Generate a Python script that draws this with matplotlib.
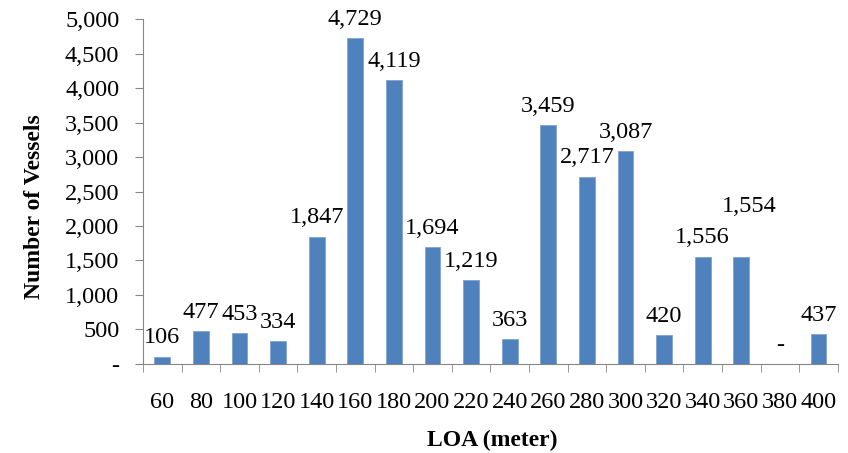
import numpy as np
import matplotlib.pyplot as plt
from matplotlib.ticker import FuncFormatter

# LOA classes (meter) and vessel counts
loa = ['60', '80', '100', '120', '140', '160', '180', '200', '220', '240',
       '260', '280', '300', '320', '340', '360', '380', '400']
vessels = [106, 477, 453, 334, 1847, 4729, 4119, 1694, 1219, 363,
           3459, 2717, 3087, 420, 1556, 1554, 0, 437]

plt.rcParams['font.family'] = ['Liberation Serif', 'DejaVu Serif']

fig = plt.figure(figsize=(8.48, 4.53), dpi=100)
ax = fig.add_axes([0.1686, 0.1965, 0.8194, 0.7615])

ind = np.arange(len(loa))
ax.bar(ind, vessels, 0.41, color='#4F81BD', edgecolor='#7FA3D0', linewidth=0.6)

# data labels (one label nudged up like the original)
nudge = {15: (6, 32)}
for i, v in enumerate(vessels):
    txt = '-' if v == 0 else f'{v:,}'
    dx, dy = nudge.get(i, (0, 9.5))
    ax.annotate(txt, (i, v), xytext=(dx, dy), textcoords='offset points',
                ha='center', va='baseline', fontsize=17.5)

ax.set_xlim(-0.5, len(loa) - 0.5)
ax.set_ylim(0, 5000)
ax.set_yticks(range(0, 5001, 500))
ax.yaxis.set_major_formatter(FuncFormatter(lambda y, p: '-' if y == 0 else f'{int(y):,}'))

ax.set_xticks(ind)
ax.set_xticklabels(loa)
ax.set_xticks(np.arange(-0.5, len(loa), 1), minor=True)
ax.tick_params(axis='x', which='major', length=0, pad=20, labelsize=17.5)
ax.tick_params(axis='x', which='minor', length=6, color='#868686', direction='out')
ax.tick_params(axis='y', length=6, color='#868686', pad=11, labelsize=17.5)

for s in ['top', 'right']:
    ax.spines[s].set_visible(False)
for s in ['left', 'bottom']:
    ax.spines[s].set_color('#868686')

ax.set_xlabel('LOA (meter)', fontsize=17, fontweight='bold')
ax.xaxis.set_label_coords(0.502, -0.19)
ax.set_ylabel('Number of Vessels', fontsize=17, fontweight='bold')
ax.yaxis.set_label_coords(-0.141, 0.455)

plt.savefig('out.png', dpi=100)
